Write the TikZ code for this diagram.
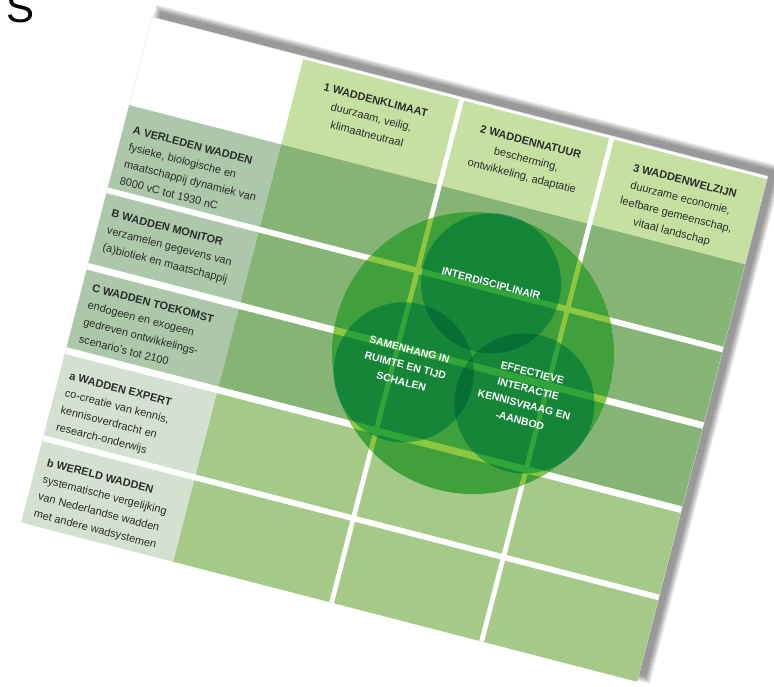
\documentclass[tikz,border=0pt]{standalone}
\usepackage{fontspec}
\setmainfont{Liberation Sans}
\definecolor{headgreen}{RGB}{197,224,160}
\definecolor{cellgreen}{RGB}{134,180,116}
\definecolor{cellpale}{RGB}{165,201,134}
\definecolor{labgreen}{RGB}{172,199,170}
\definecolor{labpale}{RGB}{212,225,209}
\definecolor{ringgreen}{RGB}{63,160,60}
\definecolor{stripgreen}{RGB}{141,198,63}
\definecolor{lensgreen}{RGB}{89,212,238}
\definecolor{inktext}{RGB}{45,45,45}
\begin{document}
\begin{tikzpicture}[x=1pt,y=1pt,
  labtext/.style={anchor=north west,inner sep=0,align=left,text=inktext,font=\fontsize{11}{17.5}\selectfont},
  headtext/.style={anchor=north,inner sep=0,align=center,text=inktext,font=\fontsize{11}{17.5}\selectfont},
  circtext/.style={inner sep=0,align=center,text=white,font=\bfseries\fontsize{10.5}{16.5}\selectfont}]
  \useasboundingbox (0,0) rectangle (774,686);
  \node[anchor=base west,inner sep=0,font=\fontsize{42}{42}\selectfont] (S) at (6,663) {S};
  \begin{scope}[shift={(152,669)},rotate=-14.5,transform shape]
    \foreach \s in {0,...,6}
      \fill[black,opacity=0.07] (7-\s,7+\s) rectangle (643+\s,-515-\s);
    \fill[white,draw=black!10,line width=0.5] (0,0) rectangle (636,-522);
    \foreach \l/\r in {157/318,323/473,478/636}
      \fill[headgreen] (\l,-3) rectangle (\r,-91);
    \foreach \t/\b/\lc/\cc in {91/176/labgreen/cellgreen,182/254/labgreen/cellgreen,
        261/341/labgreen/cellgreen,348/432/labpale/cellpale,438/522/labpale/cellpale}{
      \fill[\lc] (0,-\t) rectangle (157,-\b);
      \foreach \l/\r in {157/318,323/473,478/636}
        \fill[\cc] (\l,-\t) rectangle (\r,-\b);
    }
    \coordinate (hub) at (395,-245);
    \coordinate (cTop) at (395,-173);
    \coordinate (cLeft) at (332.6,-281);
    \coordinate (cRight) at (457.4,-281);
    \begin{scope}
      \clip (hub) circle (141);
      \fill[ringgreen] (hub) circle (141);
      \foreach \t/\b in {176/182,254/261,341/348}
        \fill[stripgreen] (0,-\t) rectangle (636,-\b);
      \foreach \l/\r in {318/323,473/478}
        \fill[stripgreen] (\l,0) rectangle (\r,-522);
    \end{scope}
    \begin{scope}[blend mode=multiply]
      \foreach \p in {cTop,cLeft,cRight}
        \fill[lensgreen] (\p) circle (70);
    \end{scope}
    \node[headtext] (klimaat) at (237.5,-20.5) {\textbf{1 WADDENKLIMAAT}\\duurzaam, veilig,\\klimaatneutraal};
    \node[headtext] (natuur) at (398,-22) {\textbf{2 WADDENNATUUR}\\bescherming,\\ontwikkeling, adaptatie};
    \node[headtext] (welzijn) at (557,-21) {\textbf{3 WADDENWELZIJN}\\duurzame economie,\\leefbare gemeenschap,\\vitaal landschap};
    \node[labtext] (verleden) at (10,-110) {\textbf{A VERLEDEN WADDEN}\\fysieke, biologische en\\maatschappij dynamiek van\\8000 vC tot 1930 nC};
    \node[labtext] (monitor) at (10,-196) {\textbf{B WADDEN MONITOR}\\verzamelen gegevens van\\(a)biotiek en maatschappij};
    \node[labtext] (toekomst) at (10,-273) {\textbf{C WADDEN TOEKOMST}\\endogeen en exogeen\\gedreven ontwikkelings-\\scenario's tot 2100};
    \node[labtext] (expert) at (10,-364) {\textbf{a WADDEN EXPERT}\\co-creatie van kennis,\\kennisoverdracht en\\research-onderwijs};
    \node[labtext] (wereld) at (10,-453) {\textbf{b WERELD WADDEN}\\systematische vergelijking\\van Nederlandse wadden\\met andere wadsystemen};
    \node[circtext] (interdis) at (cTop) {INTERDISCIPLINAIR};
    \node[circtext] (samenhang) at ([yshift=7]cLeft) {SAMENHANG IN\\RUIMTE EN TIJD\\SCHALEN};
    \node[circtext] (effect) at ([yshift=7]cRight) {EFFECTIEVE\\INTERACTIE\\KENNISVRAAG EN\\-AANBOD};
  \end{scope}
\end{tikzpicture}
\end{document}
